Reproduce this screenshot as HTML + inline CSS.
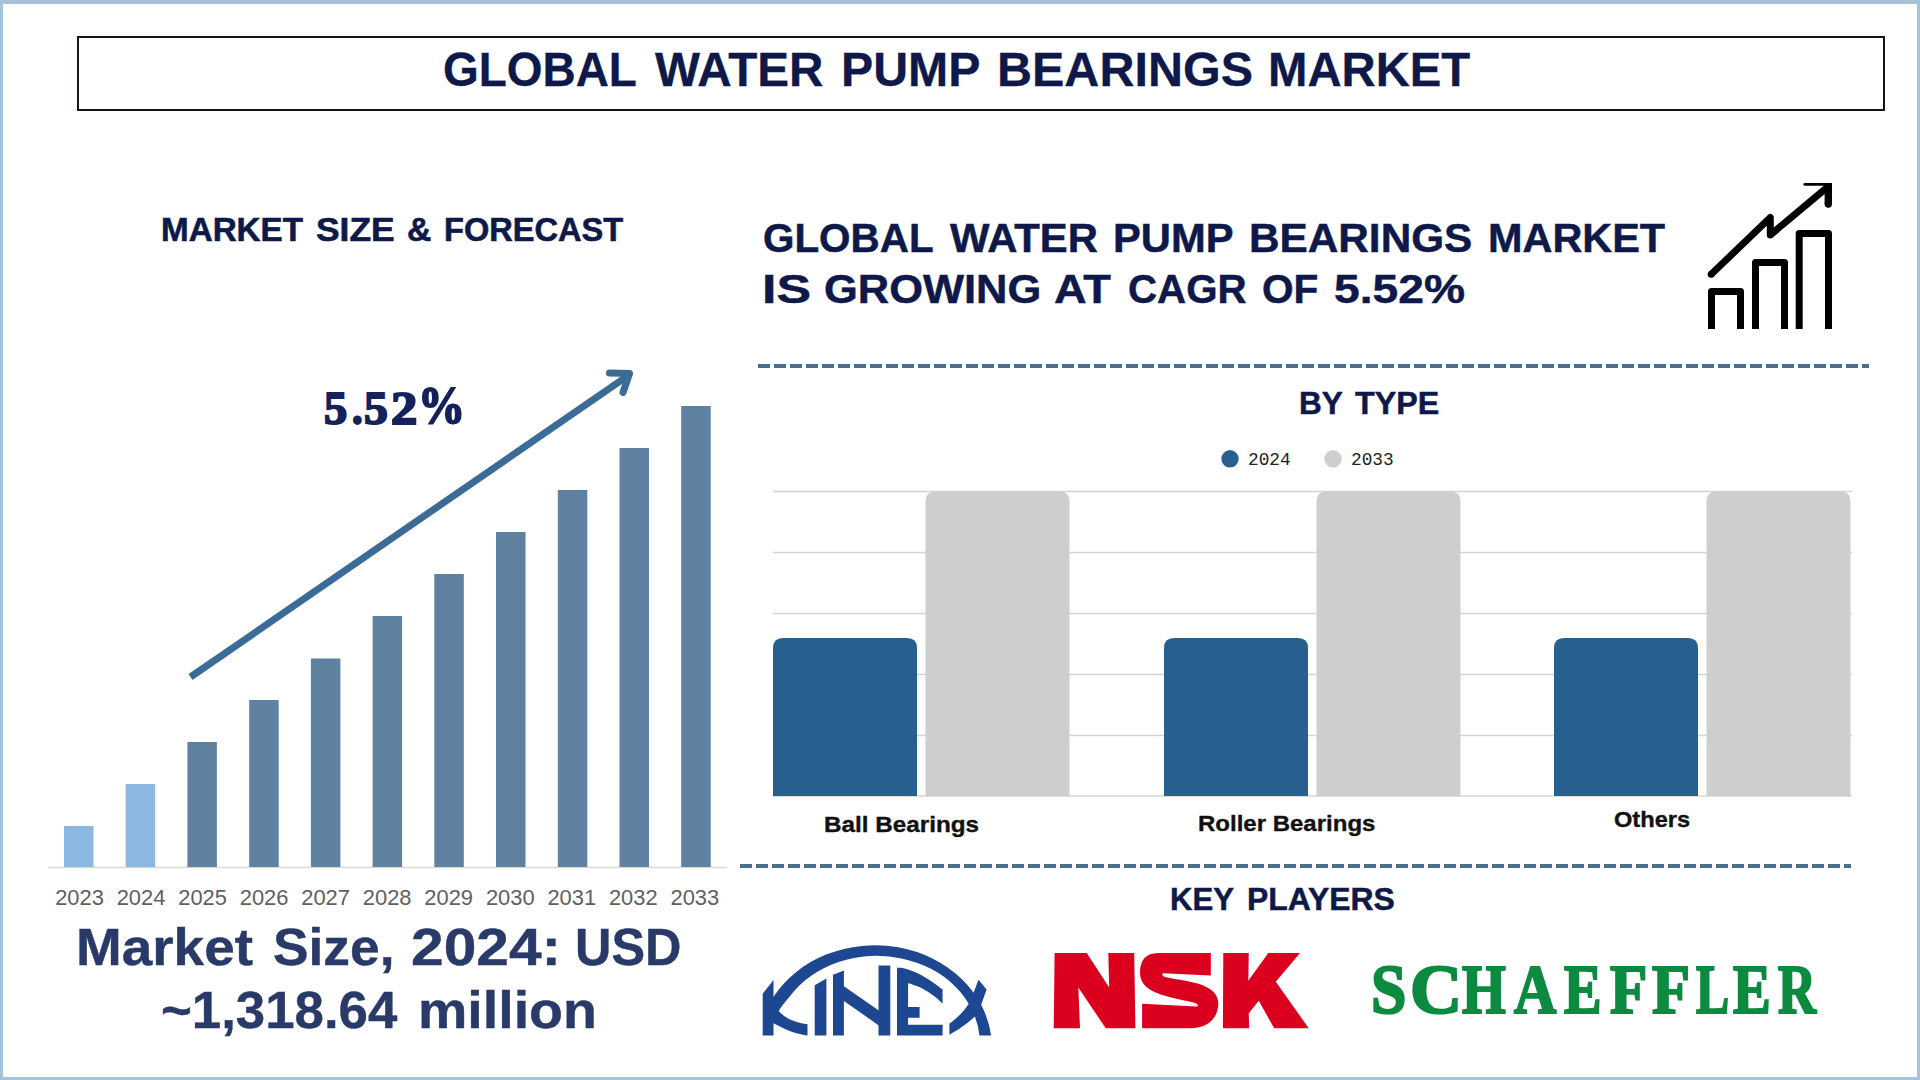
<!DOCTYPE html>
<html><head><meta charset="utf-8"><title>Global Water Pump Bearings Market</title>
<style>
*{margin:0;padding:0;box-sizing:border-box}
html,body{width:1920px;height:1080px;overflow:hidden;background:#fff}
body{position:relative;font-family:"Liberation Sans",sans-serif}
.frame{position:absolute;left:0;top:0;width:1920px;height:1080px;border-style:solid;border-color:#a7c3db;border-width:4px 3px 3px 3px}
.t{position:absolute;white-space:nowrap;line-height:1;transform-origin:0 0}
.navy{color:#0e1949;font-weight:bold}
.box{position:absolute;left:77px;top:36px;width:1808px;height:75px;border:2px solid #10161f}
.yr{position:absolute;top:887px;width:60px;text-align:center;font-size:21.9px;color:#606060;line-height:1}
.dash{position:absolute;height:4px;background:repeating-linear-gradient(90deg,#496c8f 0 12px,transparent 12px 16px)}
.cat{position:absolute;font-weight:bold;color:#111;-webkit-text-stroke:0.35px #111;line-height:1;white-space:nowrap;transform-origin:0 0}
svg{position:absolute;left:0;top:0}
</style></head>
<body>
<div class="frame"></div>
<div class="box"></div>
<svg width="1920" height="1080" viewBox="0 0 1920 1080">
<line x1="48" y1="867.5" x2="727" y2="867.5" stroke="#d9d9d9" stroke-width="1.5"/>
<rect x="64.0" y="826" width="29.5" height="41" fill="#8bb8e0"/>
<rect x="125.7" y="784" width="29.5" height="83" fill="#8bb8e0"/>
<rect x="187.4" y="742" width="29.5" height="125" fill="#5f81a2"/>
<rect x="249.2" y="700" width="29.5" height="167" fill="#5f81a2"/>
<rect x="310.9" y="658.5" width="29.5" height="208.5" fill="#5f81a2"/>
<rect x="372.6" y="616" width="29.5" height="251" fill="#5f81a2"/>
<rect x="434.3" y="574" width="29.5" height="293" fill="#5f81a2"/>
<rect x="496.0" y="532" width="29.5" height="335" fill="#5f81a2"/>
<rect x="557.8" y="490" width="29.5" height="377" fill="#5f81a2"/>
<rect x="619.5" y="448" width="29.5" height="419" fill="#5f81a2"/>
<rect x="681.2" y="406" width="29.5" height="461" fill="#5f81a2"/>
<line x1="190.5" y1="677" x2="627" y2="376.3" stroke="#3b6b97" stroke-width="7"/>
<polyline points="609.5,373 629.5,373.5 623,392.5" fill="none" stroke="#3b6b97" stroke-width="7" stroke-linecap="round" stroke-linejoin="round"/>
<g fill="none" stroke="#000" stroke-width="7" stroke-linejoin="round">
<polyline points="1711.5,329 1711.5,291.5 1740.5,291.5 1740.5,329"/>
<polyline points="1755.5,329 1755.5,262.5 1784.5,262.5 1784.5,329"/>
<polyline points="1799.2,329 1799.2,233.5 1828.5,233.5 1828.5,329"/>
<polyline points="1711.2,274.3 1770.3,217.5 1770.3,235 1827,187.5" stroke-linecap="butt"/>
<circle cx="1711.2" cy="274.3" r="3.5" fill="#000" stroke="none"/>
<line x1="1804.8" y1="184.4" x2="1830" y2="184.4" stroke-width="2.8" stroke-linecap="round"/>
<rect x="1824.6" y="183" width="7.4" height="21" fill="#000" stroke="none"/>
<circle cx="1828.3" cy="204" r="3.7" fill="#000" stroke="none"/>
</g>
<line x1="773" y1="491.5" x2="1852" y2="491.5" stroke="#d3d3d3" stroke-width="1.3"/>
<line x1="773" y1="552.5" x2="1852" y2="552.5" stroke="#d3d3d3" stroke-width="1.3"/>
<line x1="773" y1="613.5" x2="1852" y2="613.5" stroke="#d3d3d3" stroke-width="1.3"/>
<line x1="773" y1="674.5" x2="1852" y2="674.5" stroke="#d3d3d3" stroke-width="1.3"/>
<line x1="773" y1="735.5" x2="1852" y2="735.5" stroke="#d3d3d3" stroke-width="1.3"/>
<line x1="773" y1="796" x2="1852" y2="796" stroke="#d3d3d3" stroke-width="1.3"/>
<path d="M773,796 L773,648 Q773,638 783,638 L907,638 Q917,638 917,648 L917,796 Z" fill="#27608e"/>
<path d="M925.5,796 L925.5,501.5 Q925.5,491.5 935.5,491.5 L1059.5,491.5 Q1069.5,491.5 1069.5,501.5 L1069.5,796 Z" fill="#cecece"/>
<path d="M1164,796 L1164,648 Q1164,638 1174,638 L1298,638 Q1308,638 1308,648 L1308,796 Z" fill="#27608e"/>
<path d="M1316.5,796 L1316.5,501.5 Q1316.5,491.5 1326.5,491.5 L1450.5,491.5 Q1460.5,491.5 1460.5,501.5 L1460.5,796 Z" fill="#cecece"/>
<path d="M1554,796 L1554,648 Q1554,638 1564,638 L1688,638 Q1698,638 1698,648 L1698,796 Z" fill="#27608e"/>
<path d="M1706.5,796 L1706.5,501.5 Q1706.5,491.5 1716.5,491.5 L1840.5,491.5 Q1850.5,491.5 1850.5,501.5 L1850.5,796 Z" fill="#cecece"/>
<circle cx="1230" cy="458.8" r="8.7" fill="#27608e"/>
<circle cx="1333" cy="458.8" r="8.7" fill="#cecece"/>
<g fill="#1e4792">
<path d="M773.5,996.8 A117,102.7 0 0 1 991.1,1035.6 L979.4,1035.6 A102.9,86.9 0 0 0 790.1,996 C786,1001 781.5,1006 778.7,1011.1 L771,1011 L771,999 Z"/>
<path d="M771,1008 L778.7,1011.1 C781,1013.5 782,1014.5 784.1,1015.9 C787,1018 790,1019.5 793.1,1020.7 C798,1022.5 803,1023.5 807.5,1024.3 L807.5,1035.6 C802.5,1034.6 797.5,1033.5 793.1,1032.2 C789.5,1031 786,1029.6 782.9,1028 C779.8,1026.5 776.8,1024.8 771,1022 Z"/>
<polygon points="762.7,993.7 773.5,980.1 773.5,1035.6 762.7,1035.6"/>
<polygon points="814.7,985.3 826.4,978.6 826.4,1035.6 814.7,1035.6"/>
<polygon points="833,974.7 843.9,970.6 843.9,1035.6 833,1035.6"/>
<polygon points="842.5,985.3 879.5,1011.1 879.5,1025.9 842.5,1000"/>
<polygon points="878.5,965.6 890.3,965.6 890.3,1035.6 878.5,1035.6"/>
<path d="M897.0,967.4 C898.3,967.6 901.6,967.6 904.8,968.5 C907.9,969.4 912.2,970.9 915.9,972.6 C919.6,974.3 923.7,976.5 927.0,978.5 C930.3,980.5 933.3,982.5 935.9,984.4 C938.5,986.2 941.5,988.7 942.6,989.6 L942.6,1003.7 C941.2,1002.5 937.6,998.8 934.4,996.3 C931.2,993.8 927.0,990.9 923.3,988.9 C919.6,986.9 914.7,985.3 912.2,984.4 C909.7,983.5 908.8,983.5 908.1,983.3 L908.1,1007 L919.6,1007 L919.6,1017.8 L908.1,1017.8 L908.1,1024.8 L942.6,1024.8 L942.6,1035.6 L897,1035.6 Z"/>
<path d="M949.4,1023.8 C952.8,1021.2 956.3,1018.4 959.4,1015.3 C963,1011.5 966.5,1007.5 970.5,1001 L977,1014.5 C972.5,1019 967.5,1023 962.7,1026.3 C958.4,1029.6 953.8,1032.4 949.4,1034.8 Z"/>
<polygon points="972.5,995.5 978.5,979.7 986.6,989.4 980,1008"/>
</g>
<g fill="#dc001f">
<polygon points="1054.6,952.9 1086.7,952.9 1109.2,987.5 1108.3,952.9 1134.2,952.9 1135.4,1028.3 1105.8,1028.3 1078.3,987.5 1080,1028.3 1053.75,1028.3"/>
<path d="M1140,972.5 C1140,960 1146,953.3 1158,953.1 L1210.8,952.9 L1210.8,975.4 L1163.3,973.3 C1161.5,973.4 1162,975.8 1165,977.1 C1175,979.5 1185,980.5 1193.3,982.5 C1205,985 1218.3,991 1218.3,1003.5 C1218.3,1016 1210,1028.3 1190,1028.3 L1142.1,1028.3 L1142.1,1003.75 L1196,1006.6 C1199,1006.7 1198.5,1003.5 1193.3,1002.5 C1185,1000.5 1176,999 1168.3,996.7 C1155,993 1140,988 1140,972.5 Z"/>
<polygon points="1223.3,952.9 1248.75,952.9 1248.3,980.8 1268.3,952.9 1300,952.9 1275.8,981.7 1308.75,1028.3 1274.2,1028.3 1258.75,1000.8 1248.75,1013.3 1249.2,1028.3 1222.9,1028.3"/>
</g>
</svg>





<div class="t" style="left:324.24px;top:385.51px;font-size:46.2px;font-family:'Liberation Serif',serif;font-weight:bold;color:#15215a;transform:scaleX(1.0072);-webkit-text-stroke:2.0px #15215a;">5</div>
<div class="t" style="left:351.63px;top:385.51px;font-size:46.2px;font-family:'Liberation Serif',serif;font-weight:bold;color:#15215a;transform:scaleX(0.9213);-webkit-text-stroke:2.0px #15215a;">.</div>
<div class="t" style="left:363.99px;top:385.51px;font-size:46.2px;font-family:'Liberation Serif',serif;font-weight:bold;color:#15215a;transform:scaleX(1.0328);-webkit-text-stroke:2.0px #15215a;">5</div>
<div class="t" style="left:391.18px;top:385.51px;font-size:46.2px;font-family:'Liberation Serif',serif;font-weight:bold;color:#15215a;transform:scaleX(1.1421);-webkit-text-stroke:2.0px #15215a;">2</div>
<div class="t" style="left:417.76px;top:379.32px;font-size:53.6px;font-family:'Liberation Serif',serif;font-weight:bold;color:#15215a;transform:scaleX(0.8798);-webkit-text-stroke:2.0px #15215a;">%</div>
<div class="yr" style="left:49.50px">2023</div>
<div class="yr" style="left:111.03px">2024</div>
<div class="yr" style="left:172.57px">2025</div>
<div class="yr" style="left:234.11px">2026</div>
<div class="yr" style="left:295.64px">2027</div>
<div class="yr" style="left:357.17px">2028</div>
<div class="yr" style="left:418.71px">2029</div>
<div class="yr" style="left:480.25px">2030</div>
<div class="yr" style="left:541.78px">2031</div>
<div class="yr" style="left:603.31px">2032</div>
<div class="yr" style="left:664.85px">2033</div>


<div class="dash" style="left:758px;top:364px;width:1111px"></div>

<div class="t" id="lg1" style="left:1248px;top:451.8px;font-size:17.8px;font-family:'Liberation Mono',monospace;color:#222">2024</div>
<div class="t" id="lg2" style="left:1351px;top:451.8px;font-size:17.8px;font-family:'Liberation Mono',monospace;color:#222">2033</div>
<div class="cat" id="c1" style="left:824px;top:814px;font-size:22px;transform:scaleX(1.103)">Ball Bearings</div>
<div class="cat" id="c2" style="left:1198px;top:813px;font-size:22px;transform:scaleX(1.091)">Roller Bearings</div>
<div class="cat" id="c3" style="left:1613.5px;top:809px;font-size:22px;transform:scaleX(1.073)">Others</div>
<div class="dash" style="left:740px;top:864px;width:1111px"></div>

<div class="t" style="left:1371.01px;top:955.12px;font-size:69.6px;font-family:'Liberation Serif',serif;font-weight:bold;color:#0b8a40;transform:scaleX(0.9143);-webkit-text-stroke:2.2px #0b8a40;">S</div>
<div class="t" style="left:1409.68px;top:955.12px;font-size:69.6px;font-family:'Liberation Serif',serif;font-weight:bold;color:#0b8a40;transform:scaleX(1.0370);-webkit-text-stroke:2.2px #0b8a40;">C</div>
<div class="t" style="left:1462.44px;top:955.12px;font-size:69.6px;font-family:'Liberation Serif',serif;font-weight:bold;color:#0b8a40;transform:scaleX(0.8090);-webkit-text-stroke:2.2px #0b8a40;">H</div>
<div class="t" style="left:1513.63px;top:955.12px;font-size:69.6px;font-family:'Liberation Serif',serif;font-weight:bold;color:#0b8a40;transform:scaleX(0.8416);-webkit-text-stroke:2.2px #0b8a40;">A</div>
<div class="t" style="left:1564.04px;top:955.12px;font-size:69.6px;font-family:'Liberation Serif',serif;font-weight:bold;color:#0b8a40;transform:scaleX(0.8088);-webkit-text-stroke:2.2px #0b8a40;">E</div>
<div class="t" style="left:1609.66px;top:955.12px;font-size:69.6px;font-family:'Liberation Serif',serif;font-weight:bold;color:#0b8a40;transform:scaleX(0.8764);-webkit-text-stroke:2.2px #0b8a40;">F</div>
<div class="t" style="left:1651.84px;top:955.12px;font-size:69.6px;font-family:'Liberation Serif',serif;font-weight:bold;color:#0b8a40;transform:scaleX(0.8922);-webkit-text-stroke:2.2px #0b8a40;">F</div>
<div class="t" style="left:1696.15px;top:955.12px;font-size:69.6px;font-family:'Liberation Serif',serif;font-weight:bold;color:#0b8a40;transform:scaleX(0.7138);-webkit-text-stroke:2.2px #0b8a40;">L</div>
<div class="t" style="left:1733.33px;top:955.12px;font-size:69.6px;font-family:'Liberation Serif',serif;font-weight:bold;color:#0b8a40;transform:scaleX(0.8136);-webkit-text-stroke:2.2px #0b8a40;">E</div>
<div class="t" style="left:1777.50px;top:955.12px;font-size:69.6px;font-family:'Liberation Serif',serif;font-weight:bold;color:#0b8a40;transform:scaleX(0.7568);-webkit-text-stroke:2.2px #0b8a40;">R</div>
<div class="t" id="title_0" style="left:442.61px;top:45.7px;font-size:47.2px;font-weight:bold;color:#0e1949;transform:scaleX(0.9735);-webkit-text-stroke:0.3px #0e1949;">GLOBAL</div>
<div class="t" id="title_1" style="left:655.00px;top:45.7px;font-size:47.2px;font-weight:bold;color:#0e1949;transform:scaleX(1.0097);-webkit-text-stroke:0.3px #0e1949;">WATER</div>
<div class="t" id="title_2" style="left:841.43px;top:45.7px;font-size:47.2px;font-weight:bold;color:#0e1949;transform:scaleX(1.0226);-webkit-text-stroke:0.3px #0e1949;">PUMP</div>
<div class="t" id="title_3" style="left:996.72px;top:45.7px;font-size:47.2px;font-weight:bold;color:#0e1949;transform:scaleX(1.0278);-webkit-text-stroke:0.3px #0e1949;">BEARINGS</div>
<div class="t" id="title_4" style="left:1268.07px;top:45.7px;font-size:47.2px;font-weight:bold;color:#0e1949;transform:scaleX(1.0020);-webkit-text-stroke:0.3px #0e1949;">MARKET</div>
<div class="t" id="msf_0" style="left:161.39px;top:212.6px;font-size:33.4px;font-weight:bold;color:#0e1949;transform:scaleX(0.9944);-webkit-text-stroke:0.6px #0e1949;">MARKET</div>
<div class="t" id="msf_1" style="left:316.15px;top:212.6px;font-size:33.4px;font-weight:bold;color:#0e1949;transform:scaleX(1.0603);-webkit-text-stroke:0.6px #0e1949;">SIZE</div>
<div class="t" id="msf_2" style="left:407.28px;top:212.6px;font-size:33.4px;font-weight:bold;color:#0e1949;transform:scaleX(1.0087);-webkit-text-stroke:0.6px #0e1949;">&amp;</div>
<div class="t" id="msf_3" style="left:444.11px;top:212.6px;font-size:33.4px;font-weight:bold;color:#0e1949;transform:scaleX(0.9760);-webkit-text-stroke:0.6px #0e1949;">FORECAST</div>
<div class="t" id="h1_0" style="left:763.32px;top:216.9px;font-size:41.5px;font-weight:bold;color:#0e1949;transform:scaleX(0.9736);-webkit-text-stroke:0.5px #0e1949;">GLOBAL</div>
<div class="t" id="h1_1" style="left:950.00px;top:216.9px;font-size:41.5px;font-weight:bold;color:#0e1949;transform:scaleX(1.0082);-webkit-text-stroke:0.5px #0e1949;">WATER</div>
<div class="t" id="h1_2" style="left:1113.27px;top:216.9px;font-size:41.5px;font-weight:bold;color:#0e1949;transform:scaleX(1.0051);-webkit-text-stroke:0.5px #0e1949;">PUMP</div>
<div class="t" id="h1_3" style="left:1248.96px;top:216.9px;font-size:41.5px;font-weight:bold;color:#0e1949;transform:scaleX(1.0194);-webkit-text-stroke:0.5px #0e1949;">BEARINGS</div>
<div class="t" id="h1_4" style="left:1488.08px;top:216.9px;font-size:41.5px;font-weight:bold;color:#0e1949;transform:scaleX(0.9977);-webkit-text-stroke:0.5px #0e1949;">MARKET</div>
<div class="t" id="h2_0" style="left:761.52px;top:268.4px;font-size:41.5px;font-weight:bold;color:#0e1949;transform:scaleX(1.2500);-webkit-text-stroke:0.5px #0e1949;">IS</div>
<div class="t" id="h2_1" style="left:823.86px;top:268.4px;font-size:41.5px;font-weight:bold;color:#0e1949;transform:scaleX(1.0468);-webkit-text-stroke:0.5px #0e1949;">GROWING</div>
<div class="t" id="h2_2" style="left:1053.90px;top:268.4px;font-size:41.5px;font-weight:bold;color:#0e1949;transform:scaleX(1.0885);-webkit-text-stroke:0.5px #0e1949;">AT</div>
<div class="t" id="h2_3" style="left:1128.11px;top:268.4px;font-size:41.5px;font-weight:bold;color:#0e1949;transform:scaleX(0.9703);-webkit-text-stroke:0.5px #0e1949;">CAGR</div>
<div class="t" id="h2_4" style="left:1261.90px;top:268.4px;font-size:41.5px;font-weight:bold;color:#0e1949;transform:scaleX(0.9786);-webkit-text-stroke:0.5px #0e1949;">OF</div>
<div class="t" id="h2_5" style="left:1334.43px;top:268.4px;font-size:41.5px;font-weight:bold;color:#0e1949;transform:scaleX(1.1128);-webkit-text-stroke:0.5px #0e1949;">5.52%</div>
<div class="t" id="bytype_0" style="left:1298.51px;top:386.8px;font-size:32px;font-weight:bold;color:#0e1949;transform:scaleX(0.9861);-webkit-text-stroke:0.5px #0e1949;">BY</div>
<div class="t" id="bytype_1" style="left:1355.00px;top:386.8px;font-size:32px;font-weight:bold;color:#0e1949;transform:scaleX(1.0072);-webkit-text-stroke:0.5px #0e1949;">TYPE</div>
<div class="t" id="kp_0" style="left:1170.41px;top:882.9px;font-size:32px;font-weight:bold;color:#0e1949;transform:scaleX(0.9724);-webkit-text-stroke:0.5px #0e1949;">KEY</div>
<div class="t" id="kp_1" style="left:1247.08px;top:882.9px;font-size:32px;font-weight:bold;color:#0e1949;transform:scaleX(0.9973);-webkit-text-stroke:0.5px #0e1949;">PLAYERS</div>
<div class="t" id="ms1_0" style="left:75.61px;top:922.3px;font-size:51.3px;font-weight:bold;color:#2a3a68;transform:scaleX(1.0700);-webkit-text-stroke:0.4px #2a3a68;">Market</div>
<div class="t" id="ms1_1" style="left:273.03px;top:922.3px;font-size:51.3px;font-weight:bold;color:#2a3a68;transform:scaleX(1.0389);-webkit-text-stroke:0.4px #2a3a68;">Size,</div>
<div class="t" id="ms1_2" style="left:410.95px;top:922.3px;font-size:51.3px;font-weight:bold;color:#2a3a68;transform:scaleX(1.1440);-webkit-text-stroke:0.4px #2a3a68;">2024:</div>
<div class="t" id="ms1_3" style="left:574.53px;top:922.3px;font-size:51.3px;font-weight:bold;color:#2a3a68;transform:scaleX(0.9827);-webkit-text-stroke:0.4px #2a3a68;">USD</div>
<div class="t" id="ms2_0" style="left:161.45px;top:985.3px;font-size:51.3px;font-weight:bold;color:#2a3a68;transform:scaleX(1.0289);-webkit-text-stroke:0.4px #2a3a68;">~1,318.64</div>
<div class="t" id="ms2_1" style="left:418.05px;top:985.3px;font-size:51.3px;font-weight:bold;color:#2a3a68;transform:scaleX(1.0825);-webkit-text-stroke:0.4px #2a3a68;">million</div>
</body></html>
